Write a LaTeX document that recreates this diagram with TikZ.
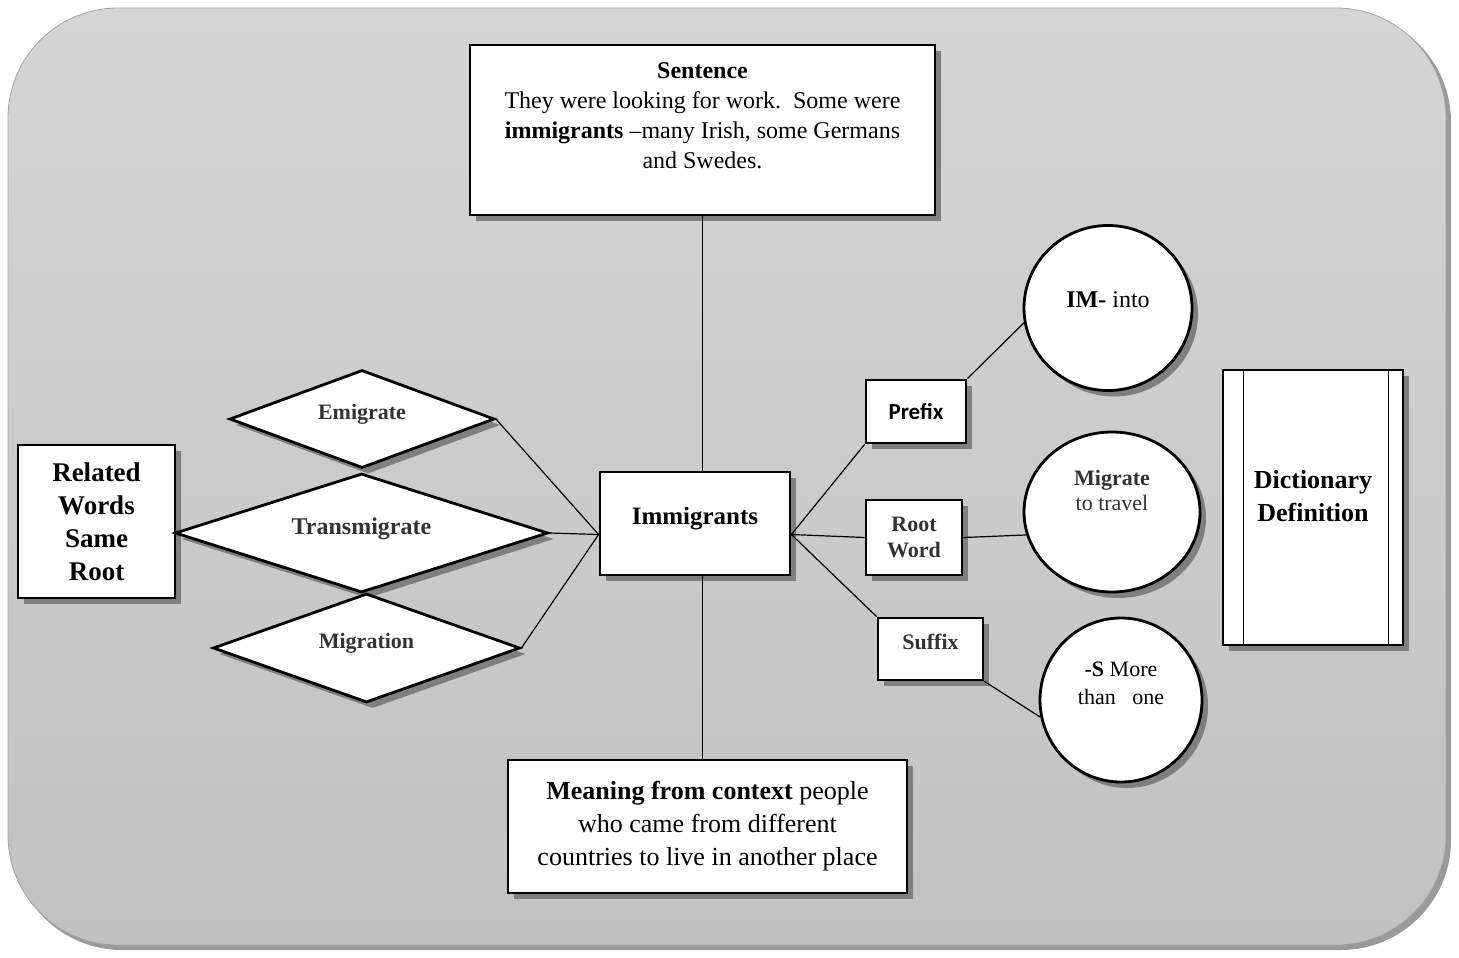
\documentclass[tikz,border=0pt]{standalone}
\usepackage{fontspec}
\setmainfont{Liberation Serif}
\newfontfamily\calibrifont{Carlito}
\usepackage{tikz}
\usetikzlibrary{shapes,shapes.geometric,shadows,positioning,calc}

\definecolor{panelTop}{HTML}{D5D5D5}
\definecolor{panelBot}{HTML}{C1C1C1}
\definecolor{panelEdge}{HTML}{A3A3A3}
\definecolor{panelShadow}{HTML}{9A9A9A}
\definecolor{boxshadow}{HTML}{7F7F7F}
\definecolor{ink}{HTML}{333333}

\begin{document}
\begin{tikzpicture}[x=0.5pt, y=-0.5pt,
    box/.style={rectangle, draw, line width=1.4pt, fill=white, inner sep=2pt,
        drop shadow={shadow xshift=3pt, shadow yshift=-3pt, fill=boxshadow, opacity=1}},
    rhomb/.style={diamond, draw, line width=1.4pt, fill=white, text=ink, text depth=7pt,
        font=\bfseries\fontsize{11}{13}\selectfont,
        drop shadow={shadow xshift=3pt, shadow yshift=-3pt, fill=boxshadow, opacity=1}},
    oval/.style={ellipse, draw, line width=1.4pt, fill=white, inner sep=0pt,
        drop shadow={shadow xshift=3pt, shadow yshift=-3pt, fill=boxshadow, opacity=1}},
    link/.style={line width=0.6pt}
]
    \useasboundingbox (0,0) rectangle (1459,957);
    % panel
    \fill[panelShadow, rounded corners=55pt] (12,12) rectangle (1451,950);
    \shade[top color=panelTop, bottom color=panelBot, draw=panelEdge, rounded corners=55pt] (8,8) rectangle (1446,945);

    % middle column
    \node[box, minimum width=232.5pt, minimum height=85pt, inner sep=0pt] (sentence) at (702.5,130)
        {\parbox[c][85pt][t]{226pt}{\vspace*{9pt}\centering\fontsize{12}{15}\selectfont
        \textbf{Sentence}\\ They were looking for work.\ \ Some were\\
        \textbf{immigrants} \textendash many Irish, some Germans\\ and Swedes.}};
    \node[box, minimum width=95pt, minimum height=51.5pt, text depth=8pt,
        font=\bfseries\fontsize{12.5}{15}\selectfont] (imm) at (695,523.5) {Immigrants};
    \node[box, minimum width=199.5pt, minimum height=66.5pt, align=center,
        font=\fontsize{13}{16.5}\selectfont] (meaning) at (707.5,826.5)
        {\textbf{Meaning from context} people\\ who came from different\\ countries to live in another place};

    % left side
    \node[box, minimum width=78.5pt, minimum height=76.5pt, align=center,
        font=\bfseries\fontsize{13.5}{16.5}\selectfont] (related) at (96.5,521.5) {Related\\ Words\\ Same\\ Root};
    \node[rhomb, aspect=2.7, minimum width=132.5pt, minimum height=49pt] (emig) at (362,419) {Emigrate};
    \node[rhomb, aspect=3.1, minimum width=186.5pt, minimum height=59.5pt,
        font=\bfseries\fontsize{12}{14}\selectfont] (trans) at (361.5,533) {Transmigrate};
    \node[rhomb, aspect=2.8, minimum width=153.5pt, minimum height=54.5pt] (migr) at (366.5,648) {Migration};

    % right side
    \node[box, minimum width=50pt, minimum height=31.5pt,
        font=\calibrifont\bfseries\fontsize{11.5}{14}\selectfont] (prefix) at (916,411.5) {Prefix};
    \node[box, minimum width=48pt, minimum height=37.5pt, align=center, text=ink,
        font=\bfseries\fontsize{11}{13}\selectfont] (root) at (914,537.5) {Root\\ Word};
    \node[box, minimum width=52.5pt, minimum height=31pt, text=ink, text depth=7pt,
        font=\bfseries\fontsize{11}{13}\selectfont] (suffix) at (930.5,649) {Suffix};

    \node[oval, minimum width=84pt, minimum height=82.5pt] (im) at (1108,308)
        {\parbox[c][16pt][t]{56pt}{\centering\fontsize{12}{14}\selectfont\textbf{IM-} into}};
    \node[oval, minimum width=88pt, minimum height=80pt, text=ink] (mig) at (1112,512)
        {\parbox[c][42pt][t]{60pt}{\centering\fontsize{11}{12.5}\selectfont\textbf{Migrate}\\ to travel}};
    \node[oval, minimum width=81pt, minimum height=82pt] (sfx) at (1121,700)
        {\parbox[c][38pt][t]{56pt}{\centering\fontsize{11}{14}\selectfont\textbf{-S} More\\ than\ \ \ one}};

    \node[box, minimum width=90pt, minimum height=137.5pt, align=center, text depth=12pt,
        font=\bfseries\fontsize{13}{16.5}\selectfont] (dict) at (1313,507.5) {Dictionary\\ Definition};
    \draw[link] ([xshift=11pt]dict.north west) -- ([xshift=11pt]dict.south west);
    \draw[link] ([xshift=-8pt]dict.north east) -- ([xshift=-8pt]dict.south east);

    % connectors
    \coordinate (hubL) at ([yshift=-5.5pt]imm.west);
    \coordinate (hubR) at ([yshift=-5.5pt]imm.east);
    \draw[link] (sentence.south) -- (sentence.south |- imm.north);
    \draw[link] (imm.south -| sentence.south) -- (meaning.north -| sentence.south);
    \draw[link] (emig.east) -- (hubL);
    \draw[link] (trans.east) -- (hubL);
    \draw[link] (migr.east) -- (hubL);
    \draw[link] (hubR) -- (prefix.south west);
    \draw[link] (hubR) -- (root.west);
    \draw[link] (hubR) -- (suffix.north west);
    \draw[link] (prefix.north east) -- (im.190);
    \draw[link] (root.east) -- (mig.195);
    \draw[link] (suffix.south east) -- (sfx.192);
\end{tikzpicture}
\end{document}
